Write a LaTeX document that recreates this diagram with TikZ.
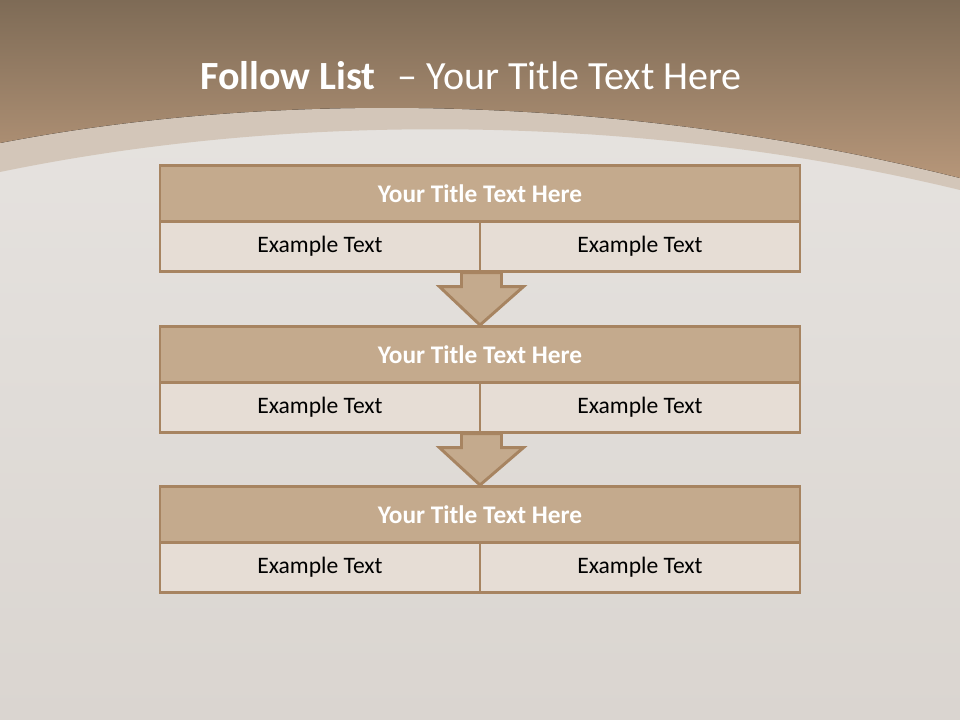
\documentclass[tikz,border=0pt]{standalone}
\usepackage{fontspec}
\setmainfont{Carlito}
\definecolor{slidetop}{RGB}{126,107,86}
\definecolor{slidemid}{RGB}{182,150,121}
\definecolor{slideband}{RGB}{211,198,185}
\definecolor{slidebg}{RGB}{232,229,226}
\definecolor{slidebgdark}{RGB}{218,213,208}
\definecolor{flowtitle}{RGB}{196,170,141}
\definecolor{flowcell}{RGB}{230,221,213}
\definecolor{flowline}{RGB}{167,132,97}
\usetikzlibrary{calc}

\begin{document}
\begin{tikzpicture}[x=0.75pt,y=-0.75pt,
  ftitle/.style={draw=flowline,line width=2.2pt,fill=flowtitle,minimum width=480pt,
    minimum height=42pt,inner sep=0pt,font=\fontsize{19}{22}\selectfont\bfseries,text=white},
  fcell/.style={draw=flowline,line width=2.2pt,fill=flowcell,minimum width=240pt,
    minimum height=37pt,inner sep=0pt,font=\fontsize{17.7}{21}\selectfont},
  farrow/.style={draw=flowline,line width=2.2pt,fill=flowtitle,line join=miter}
]
  % background
  \fill[top color=slidebg,bottom color=slidebgdark] (0,0) rectangle (960,720);
  \fill[slideband] (0,143) .. controls (300,85) and (650,100) .. (960,178)
    -- (960,190) .. controls (650,115) and (300,110) .. (0,172) -- cycle;
  \fill[top color=slidetop,bottom color=slidemid] (0,0) -- (960,0) -- (960,178)
    .. controls (650,100) and (300,85) .. (0,143) -- cycle;
  \useasboundingbox (0,0) rectangle (960,720);

  % slide title
  \node[text=white,font=\fontsize{30}{34}\selectfont] (head) at (471,76)
    {\textbf{Follow List}\hspace{0.55em}--\ Your Title Text Here};

  % step 1
  \node[ftitle] (t1) at (480,193.5) {Your Title Text Here};
  \node[fcell] (l1) at (320,246.5) {Example Text};
  \node[fcell] (r1) at (640,246.5) {Example Text};

  % step 2
  \node[ftitle] (t2) at (480,354.5) {Your Title Text Here};
  \node[fcell] (l2) at (320,407.5) {Example Text};
  \node[fcell] (r2) at (640,407.5) {Example Text};

  % step 3
  \node[ftitle] (t3) at (480,514.5) {Your Title Text Here};
  \node[fcell] (l3) at (320,567.5) {Example Text};
  \node[fcell] (r3) at (640,567.5) {Example Text};

  % arrows
  \draw[farrow] ($(l1.south east)+(-20,0)$) -- ++(0,14) -- ++(-22,0) -- (t2.north)
    -- ($(l1.south east)+(42,14)$) -- ++(-22,0) -- ++(0,-14) -- cycle;
  \draw[farrow] ($(l2.south east)+(-20,0)$) -- ++(0,14) -- ++(-22,0) -- (t3.north)
    -- ($(l2.south east)+(42,14)$) -- ++(-22,0) -- ++(0,-14) -- cycle;
\end{tikzpicture}
\end{document}
